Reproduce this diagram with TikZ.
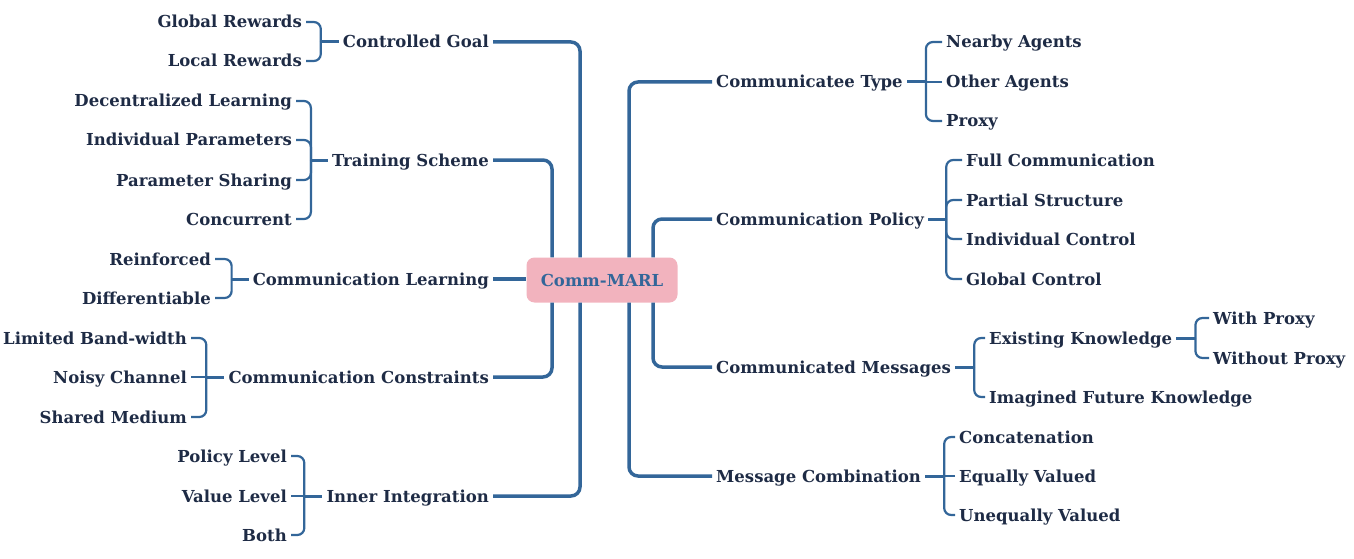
\documentclass[tikz,border=0pt]{standalone}
\usepackage{fontspec}
\setmainfont{DejaVu Serif}
\usepackage{tikz}

\definecolor{linkblue}{HTML}{336699}
\definecolor{inkblue}{HTML}{1E2B45}
\definecolor{rootpink}{HTML}{F2B3BE}

\begin{document}
\begin{tikzpicture}[x=1pt,y=-1pt,
  txt/.style={font=\bfseries\fontsize{16.5}{18}\selectfont, text=inkblue, inner sep=4pt,
    text height=14pt, text depth=2pt},
  lt/.style={txt, anchor=east},
  rt/.style={txt, anchor=west},
  trunk/.style={draw=linkblue, line width=3.5pt, rounded corners=9pt},
  stub/.style={draw=linkblue, line width=3pt},
  brace/.style={draw=linkblue, line width=2.2pt, rounded corners=7pt}]
\useasboundingbox (0,0) rectangle (1354,559);

% root
\node[fill=rootpink, rounded corners=8pt, minimum width=151pt, minimum height=45pt,
  font=\bfseries\fontsize{16.5}{18}\selectfont, text=linkblue,
  text height=14pt, text depth=2pt] (root) at (602,280) {Comm-MARL};

% left side
\node[lt] (goal) at (493,42) {Controlled Goal};
\node[lt] (train) at (493,160) {Training Scheme};
\node[lt] (learn) at (493,279) {Communication Learning};
\node[lt] (cons) at (493,377) {Communication Constraints};
\node[lt] (inner) at (493,496) {Inner Integration};

\draw[trunk] (goal.east) -| ([xshift=-22pt]root.north);
\draw[trunk] (train.east) -| ([xshift=-50pt]root.north);
\draw[trunk] (learn.east) -- (learn.east -| root.west);
\draw[trunk] (cons.east) -| ([xshift=-50pt]root.south);
\draw[trunk] (inner.east) -| ([xshift=-22pt]root.south);

% right side
\node[rt] (ctype) at (712,82) {Communicatee Type};
\node[rt] (policy) at (712,219) {Communication Policy};
\node[rt] (msgs) at (712,367) {Communicated Messages};
\node[rt] (comb) at (712,476) {Message Combination};

\draw[trunk] (ctype.west) -| ([xshift=27pt]root.north);
\draw[trunk] (policy.west) -| ([xshift=51pt]root.north);
\draw[trunk] (msgs.west) -| ([xshift=51pt]root.south);
\draw[trunk] (comb.west) -| ([xshift=27pt]root.south);

% controlled goal
\coordinate (goalb) at ([xshift=-18pt]goal.west);
\node[lt] (glob) at (306,22) {Global Rewards};
\node[lt] (loc) at (306,61) {Local Rewards};
\draw[brace] (glob.east) -| (goalb);
\draw[brace] (loc.east) -| (goalb);
\draw[stub] (goalb) -- (goal.west);

% training scheme
\coordinate (trainb) at ([xshift=-17pt]train.west);
\node[lt] (decl) at (296,101) {Decentralized Learning};
\node[lt] (indp) at (296,140) {Individual Parameters};
\node[lt] (pshare) at (296,180) {Parameter Sharing};
\node[lt] (conc) at (296,219) {Concurrent};
\draw[brace] (decl.east) -| (trainb);
\draw[brace] (indp.east) -| (trainb);
\draw[brace] (pshare.east) -| (trainb);
\draw[brace] (conc.east) -| (trainb);
\draw[stub] (trainb) -- (train.west);

% communication learning
\coordinate (learnb) at ([xshift=-17pt]learn.west);
\node[lt] (reinf) at (215,259) {Reinforced};
\node[lt] (diff) at (215,298) {Differentiable};
\draw[brace] (reinf.east) -| (learnb);
\draw[brace] (diff.east) -| (learnb);
\draw[stub] (learnb) -- (learn.west);

% communication constraints
\coordinate (consb) at ([xshift=-18pt]cons.west);
\node[lt] (band) at (191,338) {Limited Band-width};
\node[lt] (noisy) at (191,377) {Noisy Channel};
\node[lt] (shmed) at (191,417) {Shared Medium};
\draw[brace] (band.east) -| (consb);
\draw[brace] (noisy.east) -- (consb);
\draw[brace] (shmed.east) -| (consb);
\draw[stub] (consb) -- (cons.west);

% inner integration
\coordinate (innerb) at ([xshift=-18pt]inner.west);
\node[lt] (pol) at (291,456) {Policy Level};
\node[lt] (val) at (291,496) {Value Level};
\node[lt] (both) at (291,535) {Both};
\draw[brace] (pol.east) -| (innerb);
\draw[brace] (val.east) -- (innerb);
\draw[brace] (both.east) -| (innerb);
\draw[stub] (innerb) -- (inner.west);

% communicatee type
\coordinate (ctypeb) at ([xshift=19pt]ctype.east);
\node[rt] (nearby) at (942,42) {Nearby Agents};
\node[rt] (other) at (942,82) {Other Agents};
\node[rt] (proxy) at (942,121) {Proxy};
\draw[brace] (nearby.west) -| (ctypeb);
\draw[brace] (other.west) -- (ctypeb);
\draw[brace] (proxy.west) -| (ctypeb);
\draw[stub] (ctypeb) -- (ctype.east);

% communication policy
\coordinate (policyb) at ([xshift=18pt]policy.east);
\node[rt] (full) at (962,160) {Full Communication};
\node[rt] (part) at (962,200) {Partial Structure};
\node[rt] (indc) at (962,239) {Individual Control};
\node[rt] (globc) at (962,279) {Global Control};
\draw[brace] (full.west) -| (policyb);
\draw[brace] (part.west) -| (policyb);
\draw[brace] (indc.west) -| (policyb);
\draw[brace] (globc.west) -| (policyb);
\draw[stub] (policyb) -- (policy.east);

% communicated messages
\coordinate (msgsb) at ([xshift=19pt]msgs.east);
\node[rt] (exist) at (985,338) {Existing Knowledge};
\node[rt] (imag) at (985,397) {Imagined Future Knowledge};
\draw[brace] (exist.west) -| (msgsb);
\draw[brace] (imag.west) -| (msgsb);
\draw[stub] (msgsb) -- (msgs.east);

\coordinate (existb) at ([xshift=19pt]exist.east);
\node[rt] (withp) at (1209,318) {With Proxy};
\node[rt] (wop) at (1209,358) {Without Proxy};
\draw[brace] (withp.west) -| (existb);
\draw[brace] (wop.west) -| (existb);
\draw[stub] (existb) -- (exist.east);

% message combination
\coordinate (combb) at ([xshift=19pt]comb.east);
\node[rt] (concat) at (955,437) {Concatenation};
\node[rt] (equal) at (955,476) {Equally Valued};
\node[rt] (unequal) at (955,515) {Unequally Valued};
\draw[brace] (concat.west) -| (combb);
\draw[brace] (equal.west) -- (combb);
\draw[brace] (unequal.west) -| (combb);
\draw[stub] (combb) -- (comb.east);
\end{tikzpicture}
\end{document}
